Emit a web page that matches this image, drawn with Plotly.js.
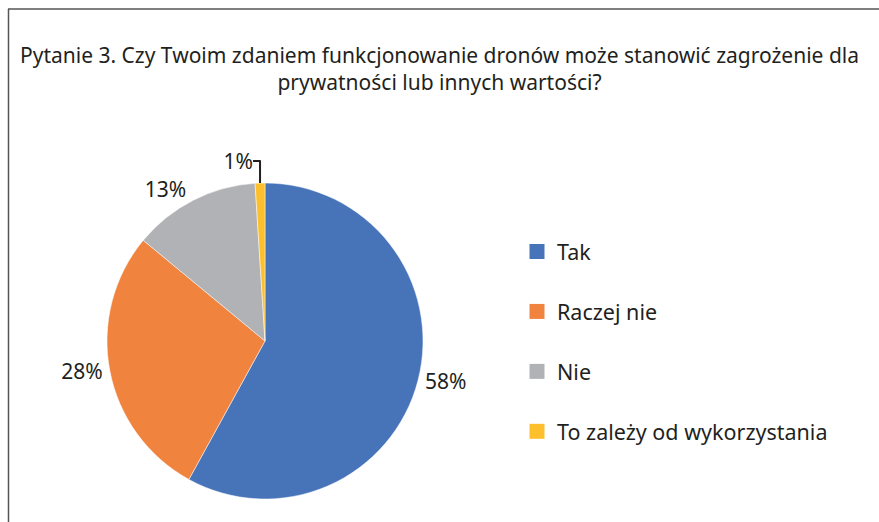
<!DOCTYPE html>
<html>
<head>
<meta charset="utf-8">
<script src="https://cdn.plot.ly/plotly-3.0.1.min.js"></script>
<style>html,body{margin:0;padding:0;background:#fff}#chart{width:879px;height:522px}</style>
</head>
<body>
<div id="chart"></div>
<script>
const categories = ["Tak", "Raczej nie", "Nie", "To zależy od wykorzystania"];
const values = [58, 28, 13, 1];
const colors = ["#4773B9", "#F0833E", "#B1B2B5", "#FDC02C"];
const titleText = "Pytanie 3. Czy Twoim zdaniem funkcjonowanie dronów może stanowić zagrożenie dla<br>prywatności lub innych wartości?";

const W = 879, H = 522;
const FONT = "Noto Sans, Open Sans, sans-serif";
const TXT = "#231F20";

const pie = {
  type: "pie",
  labels: categories,
  values: values,
  sort: false,
  direction: "clockwise",
  rotation: 0,
  marker: {colors: colors, line: {color: "#ffffff", width: 0.5}},
  textinfo: "percent",
  texttemplate: "%{percent:.0%}",
  textposition: "outside",
  outsidetextfont: {family: FONT, size: 21, color: TXT},
  showlegend: false,
  hoverinfo: "label+percent",
  domain: {x: [107 / W, 423 / W], y: [(H - 499) / H, (H - 183) / H]}
};

const legendTraces = categories.map((c, i) => ({
  type: "scatter",
  mode: "markers",
  x: [null], y: [null],
  name: c,
  legendgroup: "g" + i,
  marker: {symbol: "square", size: 15, color: colors[i]},
  hoverinfo: "skip"
}));

const layout = {
  width: W, height: H,
  margin: {l: 0, r: 0, t: 0, b: 0},
  paper_bgcolor: "#ffffff",
  plot_bgcolor: "#ffffff",
  font: {family: FONT, color: TXT},
  title: {
    text: titleText,
    font: {family: FONT, size: 21, color: TXT},
    x: 0.5, xanchor: "center", xref: "paper",
    y: 1 - 63 / H, yanchor: "middle", yref: "container"
  },
  xaxis: {visible: false, domain: [0.98, 1]},
  yaxis: {visible: false, domain: [0.98, 1]},
  showlegend: true,
  legend: {
    x: 517 / W, xanchor: "left",
    y: 1 - 231 / H, yanchor: "top",
    traceorder: "grouped",
    tracegroupgap: 29,
    itemwidth: 30,
    font: {family: FONT, size: 21.5, color: TXT},
    bgcolor: "rgba(0,0,0,0)"
  },
  shapes: [
    {type: "line", xref: "paper", yref: "paper", x0: 8 / W, x1: 1, y0: 1 - 9 / H, y1: 1 - 9 / H, line: {color: "#555555", width: 1.5}},
    {type: "line", xref: "paper", yref: "paper", x0: 8.5 / W, x1: 8.5 / W, y0: 0, y1: 1 - 9 / H, line: {color: "#555555", width: 1.5}}
  ]
};

Plotly.newPlot("chart", [pie].concat(legendTraces), layout, {displayModeBar: false, staticPlot: true});
</script>
</body>
</html>
